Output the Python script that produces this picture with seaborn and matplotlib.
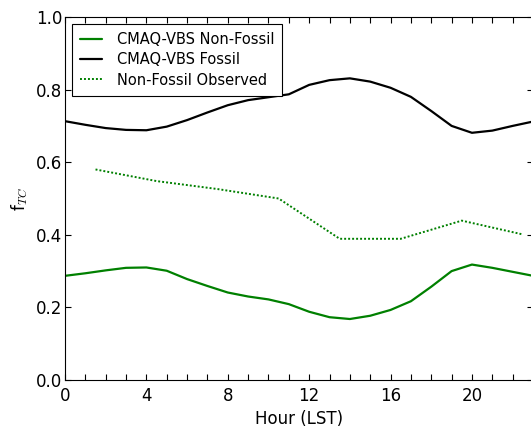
import matplotlib
matplotlib.use("Agg")
import matplotlib.pyplot as plt
from matplotlib.ticker import MultipleLocator
import seaborn as sns
import pandas as pd

hours = list(range(24))
non_fossil = [0.287, 0.294, 0.302, 0.309, 0.310, 0.301, 0.278, 0.259, 0.241, 0.230,
              0.222, 0.209, 0.188, 0.173, 0.168, 0.177, 0.193, 0.217, 0.257, 0.300,
              0.318, 0.309, 0.298, 0.287]
fossil = [0.713, 0.703, 0.694, 0.689, 0.688, 0.698, 0.716, 0.737, 0.757, 0.771,
          0.779, 0.787, 0.813, 0.826, 0.831, 0.822, 0.805, 0.780, 0.741, 0.700,
          0.681, 0.687, 0.700, 0.712]
obs_hours = [1.5, 4.5, 7.5, 10.5, 13.5, 16.5, 19.5, 22.5]
obs_non_fossil = [0.580, 0.548, 0.526, 0.500, 0.389, 0.389, 0.439, 0.401]

labels = ["CMAQ-VBS Non-Fossil", "CMAQ-VBS Fossil", "Non-Fossil Observed"]

sns.set_style("ticks", {
    "xtick.direction": "in", "ytick.direction": "in",
    "xtick.top": True, "ytick.right": True,
    "axes.edgecolor": "black", "axes.linewidth": 1.0,
    "text.color": "black", "axes.labelcolor": "black",
    "xtick.color": "black", "ytick.color": "black",
})
plt.rcParams["font.family"] = ["DejaVu Sans"]
plt.rcParams["mathtext.fontset"] = "cm"

df_model = pd.DataFrame({"hour": hours, "nf": non_fossil, "f": fossil})
df_obs = pd.DataFrame({"hour": obs_hours, "obs": obs_non_fossil})

fig = plt.figure(figsize=(5.31, 4.28), dpi=100)
ax = fig.add_axes([65 / 531, 48 / 428, 468 / 531, 363 / 428])

sns.lineplot(data=df_model, x="hour", y="nf", ax=ax, color="green", lw=1.6, label=labels[0])
sns.lineplot(data=df_model, x="hour", y="f", ax=ax, color="black", lw=1.6, label=labels[1])
sns.lineplot(data=df_obs, x="hour", y="obs", ax=ax, color="green", lw=1.4,
             dashes=False, label=labels[2])
ax.lines[-1].set_dashes((1, 1.05))

ax.set_xlim(0, 23)
ax.set_ylim(0, 1.0)
ax.xaxis.set_major_locator(MultipleLocator(4))
ax.xaxis.set_minor_locator(MultipleLocator(1))
ax.yaxis.set_major_locator(MultipleLocator(0.2))
ax.tick_params(which="both", direction="in", top=True, right=True, length=4, width=0.8, color="black")
ax.tick_params(axis="both", labelsize=12, labelcolor="black")
ax.tick_params(axis="y", pad=2)
ax.tick_params(axis="x", pad=5)
ax.set_xlabel("Hour (LST)", fontsize=12, color="black")
ax.set_ylabel(r"f$_{TC}$", fontsize=12, color="black")
for s in ax.spines.values():
    s.set_visible(True)
    s.set_color("black")

leg = ax.legend(loc="upper left", fontsize=10.5, frameon=True, fancybox=False,
                edgecolor="black", framealpha=1, handlelength=1.5, handletextpad=1.0,
                borderpad=0.55, labelspacing=0.35, borderaxespad=0.5)
leg.get_frame().set_linewidth(0.8)
for t in leg.get_texts():
    t.set_color("black")

fig.savefig("out.png", dpi=100)
